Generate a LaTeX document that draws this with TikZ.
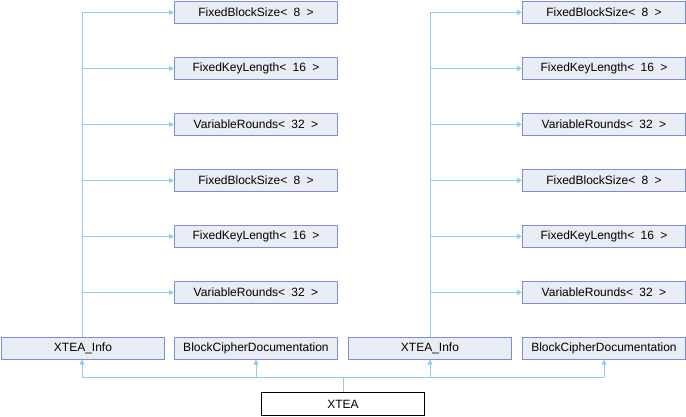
\documentclass[tikz,border=0pt]{standalone}
\usepackage{fontspec}
\setmainfont{Liberation Sans}
\usetikzlibrary{arrows.meta}
\definecolor{boxfill}{HTML}{E8ECF5}
\definecolor{boxdraw}{HTML}{7B8FC8}
\definecolor{edge}{HTML}{8FCBEA}
\newcommand{\tsp}{\hspace{6.3pt}}
\begin{document}
\begin{tikzpicture}[x=1pt,y=-1pt,
  cls/.style={draw=boxdraw,fill=boxfill,line width=0.9pt,minimum width=163pt,minimum height=22pt,inner sep=0pt,font=\fontsize{12}{14}\selectfont,anchor=north west},
  main/.style={draw=black,fill=white,line width=0.9pt,minimum width=163pt,minimum height=23pt,inner sep=0pt,font=\fontsize{12}{14}\selectfont,anchor=north west},
  inh/.style={draw=edge,line width=0.9pt,-{Triangle[length=5pt,width=5pt]}},
  ln/.style={draw=edge,line width=0.9pt}]
\useasboundingbox (0,0) rectangle (686,416);
% left column
\node[cls] (l1) at (174,1) {FixedBlockSize<\tsp 8\tsp >};
\node[cls] (l2) at (174,57) {FixedKeyLength<\tsp 16\tsp >};
\node[cls] (l3) at (174,113) {VariableRounds<\tsp 32\tsp >};
\node[cls] (l4) at (174,169) {FixedBlockSize<\tsp 8\tsp >};
\node[cls] (l5) at (174,225) {FixedKeyLength<\tsp 16\tsp >};
\node[cls] (l6) at (174,281) {VariableRounds<\tsp 32\tsp >};
% right column
\node[cls] (r1) at (522,1) {FixedBlockSize<\tsp 8\tsp >};
\node[cls] (r2) at (522,57) {FixedKeyLength<\tsp 16\tsp >};
\node[cls] (r3) at (522,113) {VariableRounds<\tsp 32\tsp >};
\node[cls] (r4) at (522,169) {FixedBlockSize<\tsp 8\tsp >};
\node[cls] (r5) at (522,225) {FixedKeyLength<\tsp 16\tsp >};
\node[cls] (r6) at (522,281) {VariableRounds<\tsp 32\tsp >};
% middle row
\node[cls] (xi1) at (1,337) {XTEA\_Info};
\node[cls] (bc1) at (174,337) {BlockCipherDocumentation};
\node[cls] (xi2) at (348,337) {XTEA\_Info};
\node[cls] (bc2) at (522,337) {BlockCipherDocumentation};
% main
\node[main] (x) at (261,392) {XTEA};
% left inheritance
\coordinate (lv) at (82,12);
\draw[ln] (xi1.north -| lv) -- (lv);
\foreach \n in {l1,l2,l3,l4,l5,l6} \draw[inh] (lv |- \n.west) -- (\n.west);
\coordinate (rv) at (430,12);
\draw[ln] (xi2.north -| rv) -- (rv);
\foreach \n in {r1,r2,r3,r4,r5,r6} \draw[inh] (rv |- \n.west) -- (\n.west);
% bottom
\coordinate (hb) at (343,377);
\draw[ln] (x.north -| hb) -- (hb);
\foreach \n/\xx in {xi1/82,bc1/256,xi2/430,bc2/604} {
  \draw[ln] (hb) -- (\xx,377);
  \draw[inh] (\xx,377) -- (\xx,359.5);
}
\end{tikzpicture}
\end{document}
